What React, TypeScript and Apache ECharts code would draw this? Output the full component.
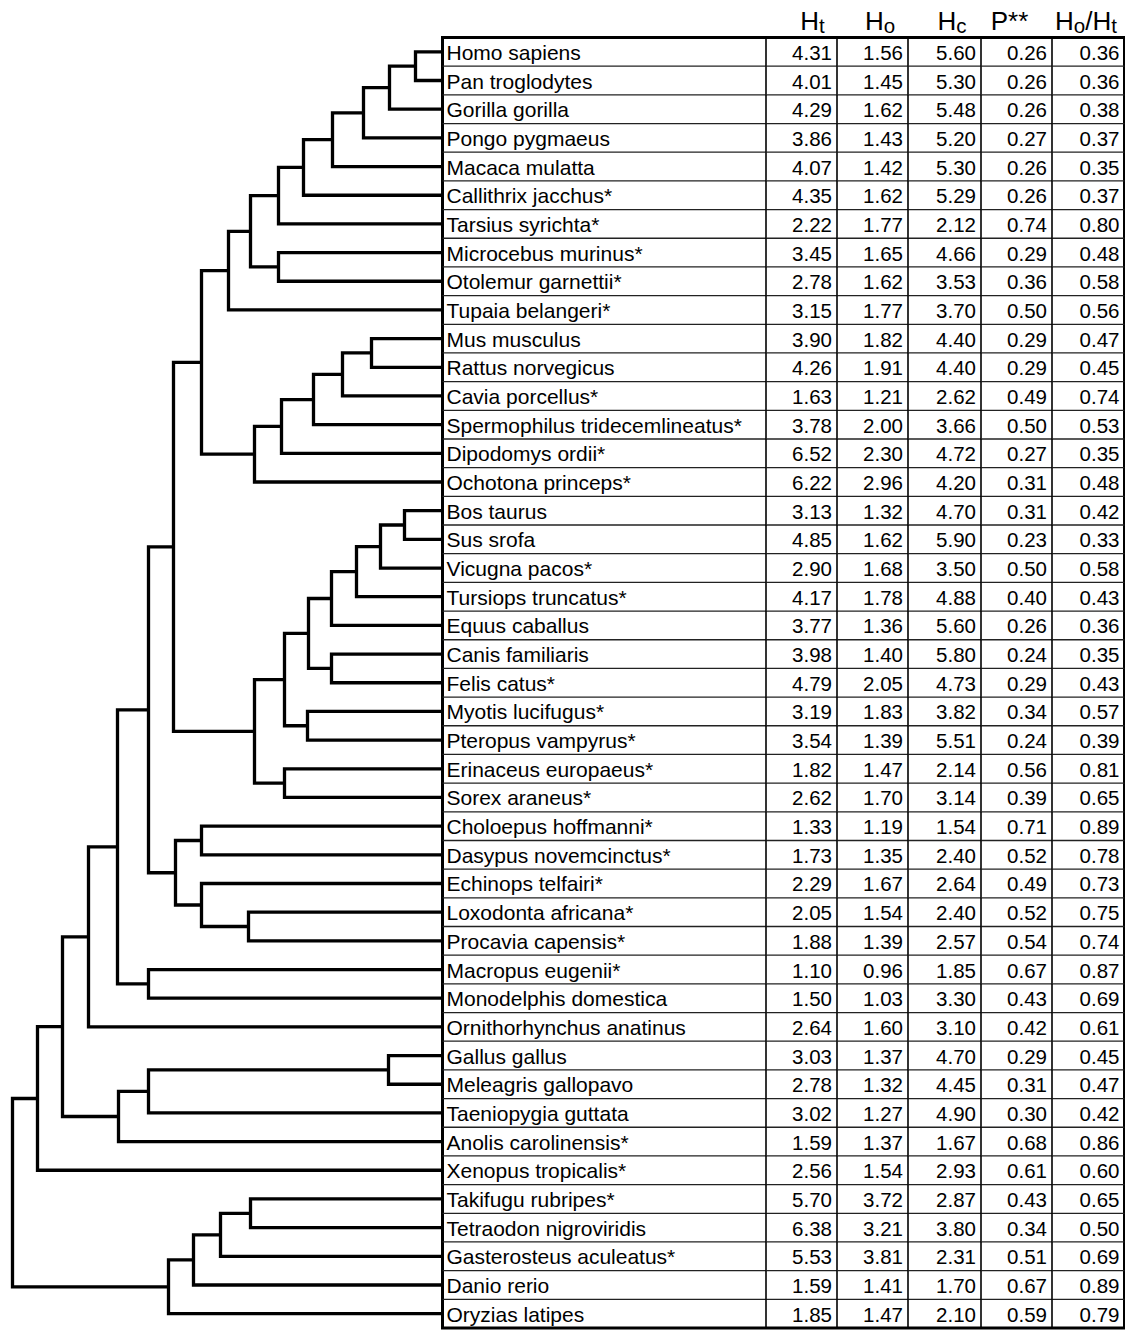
import React, { useEffect, useRef } from "react";
import * as echarts from "echarts";

// ---------------- DATA ----------------
const species = [
  "Homo sapiens", "Pan troglodytes", "Gorilla gorilla", "Pongo pygmaeus", "Macaca mulatta",
  "Callithrix jacchus*", "Tarsius syrichta*", "Microcebus murinus*", "Otolemur garnettii*", "Tupaia belangeri*",
  "Mus musculus", "Rattus norvegicus", "Cavia porcellus*", "Spermophilus tridecemlineatus*", "Dipodomys ordii*",
  "Ochotona princeps*", "Bos taurus", "Sus srofa", "Vicugna pacos*", "Tursiops truncatus*",
  "Equus caballus", "Canis familiaris", "Felis catus*", "Myotis lucifugus*", "Pteropus vampyrus*",
  "Erinaceus europaeus*", "Sorex araneus*", "Choloepus hoffmanni*", "Dasypus novemcinctus*", "Echinops telfairi*",
  "Loxodonta africana*", "Procavia capensis*", "Macropus eugenii*", "Monodelphis domestica", "Ornithorhynchus anatinus",
  "Gallus gallus", "Meleagris gallopavo", "Taeniopygia guttata", "Anolis carolinensis*", "Xenopus tropicalis*",
  "Takifugu rubripes*", "Tetraodon nigroviridis", "Gasterosteus aculeatus*", "Danio rerio", "Oryzias latipes",
];

const Ht = [4.31, 4.01, 4.29, 3.86, 4.07, 4.35, 2.22, 3.45, 2.78, 3.15, 3.90, 4.26, 1.63, 3.78, 6.52, 6.22, 3.13, 4.85, 2.90, 4.17, 3.77, 3.98, 4.79, 3.19, 3.54, 1.82, 2.62, 1.33, 1.73, 2.29, 2.05, 1.88, 1.10, 1.50, 2.64, 3.03, 2.78, 3.02, 1.59, 2.56, 5.70, 6.38, 5.53, 1.59, 1.85];
const Ho = [1.56, 1.45, 1.62, 1.43, 1.42, 1.62, 1.77, 1.65, 1.62, 1.77, 1.82, 1.91, 1.21, 2.00, 2.30, 2.96, 1.32, 1.62, 1.68, 1.78, 1.36, 1.40, 2.05, 1.83, 1.39, 1.47, 1.70, 1.19, 1.35, 1.67, 1.54, 1.39, 0.96, 1.03, 1.60, 1.37, 1.32, 1.27, 1.37, 1.54, 3.72, 3.21, 3.81, 1.41, 1.47];
const Hc = [5.60, 5.30, 5.48, 5.20, 5.30, 5.29, 2.12, 4.66, 3.53, 3.70, 4.40, 4.40, 2.62, 3.66, 4.72, 4.20, 4.70, 5.90, 3.50, 4.88, 5.60, 5.80, 4.73, 3.82, 5.51, 2.14, 3.14, 1.54, 2.40, 2.64, 2.40, 2.57, 1.85, 3.30, 3.10, 4.70, 4.45, 4.90, 1.67, 2.93, 2.87, 3.80, 2.31, 1.70, 2.10];
const Pval = [0.26, 0.26, 0.26, 0.27, 0.26, 0.26, 0.74, 0.29, 0.36, 0.50, 0.29, 0.29, 0.49, 0.50, 0.27, 0.31, 0.31, 0.23, 0.50, 0.40, 0.26, 0.24, 0.29, 0.34, 0.24, 0.56, 0.39, 0.71, 0.52, 0.49, 0.52, 0.54, 0.67, 0.43, 0.42, 0.29, 0.31, 0.30, 0.68, 0.61, 0.43, 0.34, 0.51, 0.67, 0.59];
const HoHt = [0.36, 0.36, 0.38, 0.37, 0.35, 0.37, 0.80, 0.48, 0.58, 0.56, 0.47, 0.45, 0.74, 0.53, 0.35, 0.48, 0.42, 0.33, 0.58, 0.43, 0.36, 0.35, 0.43, 0.57, 0.39, 0.81, 0.65, 0.89, 0.78, 0.73, 0.75, 0.74, 0.87, 0.69, 0.61, 0.45, 0.47, 0.42, 0.86, 0.60, 0.65, 0.50, 0.69, 0.89, 0.79];

// column headers (rich text: h = main letter, s = subscript)
const headers = ["{h|H}{s|t}", "{h|H}{s|o}", "{h|H}{s|c}", "{h|P**}", "{h|H}{s|o}{h|/H}{s|t}"];

// internal tree nodes: [id, child A, child B, node depth (0 = tips)]
const treeNodes: [string, string, string, number][] = [
  ["P1", "Homo sapiens", "Pan troglodytes", 27],
  ["P2", "P1", "Gorilla gorilla", 53],
  ["P3", "P2", "Pongo pygmaeus", 79],
  ["P4", "P3", "Macaca mulatta", 110],
  ["P5", "P4", "Callithrix jacchus*", 139],
  ["P6", "P5", "Tarsius syrichta*", 164],
  ["P7", "Microcebus murinus*", "Otolemur garnettii*", 164],
  ["P8", "P6", "P7", 192],
  ["P9", "P8", "Tupaia belangeri*", 214],
  ["G1", "Mus musculus", "Rattus norvegicus", 71],
  ["G2", "G1", "Cavia porcellus*", 100],
  ["G3", "G2", "Spermophilus tridecemlineatus*", 129],
  ["G4", "G3", "Dipodomys ordii*", 161],
  ["G5", "G4", "Ochotona princeps*", 188],
  ["E1", "P9", "G5", 241],
  ["L1", "Bos taurus", "Sus srofa", 38],
  ["L2", "L1", "Vicugna pacos*", 62],
  ["L3", "L2", "Tursiops truncatus*", 86],
  ["L4", "L3", "Equus caballus", 111],
  ["L5", "Canis familiaris", "Felis catus*", 111],
  ["L6", "L4", "L5", 134],
  ["L7", "Myotis lucifugus*", "Pteropus vampyrus*", 135],
  ["L8", "L6", "L7", 158],
  ["L9", "Erinaceus europaeus*", "Sorex araneus*", 158],
  ["L10", "L8", "L9", 188],
  ["B1", "E1", "L10", 269],
  ["X1", "Choloepus hoffmanni*", "Dasypus novemcinctus*", 241],
  ["A1", "Loxodonta africana*", "Procavia capensis*", 194],
  ["A2", "Echinops telfairi*", "A1", 241],
  ["XA", "X1", "A2", 267],
  ["EU", "B1", "XA", 294],
  ["M1", "Macropus eugenii*", "Monodelphis domestica", 294],
  ["TH", "EU", "M1", 325],
  ["MA", "TH", "Ornithorhynchus anatinus", 354],
  ["AV1", "Gallus gallus", "Meleagris gallopavo", 54],
  ["AV2", "AV1", "Taeniopygia guttata", 294],
  ["SA", "AV2", "Anolis carolinensis*", 324],
  ["AM", "MA", "SA", 380],
  ["TE", "AM", "Xenopus tropicalis*", 405],
  ["F1", "Takifugu rubripes*", "Tetraodon nigroviridis", 192],
  ["F2", "F1", "Gasterosteus aculeatus*", 222],
  ["F3", "F2", "Danio rerio", 249],
  ["F4", "F3", "Oryzias latipes", 274],
  ["ROOT", "TE", "F4", 430],
];

// ---------------- LAYOUT ----------------
const W = 1125;
const H = 1330;
const TOP = 37.5;
const TABLE_H = 1290.5;
const SPLIT = 442.5;
const TABLE_W = 682;
const colEdges = [0, 323.5, 394.5, 465.5, 538.5, 609.5, 682];
const headerCenters = [370, 437.5, 509.5, 567, 643.5];
const FONT = '"Liberation Sans", Arial, sans-serif';

export default function App() {
  const ref = useRef<HTMLDivElement>(null);

  useEffect(() => {
    if (!ref.current) return;
    const chart = echarts.init(ref.current, undefined, { renderer: "svg", width: W, height: H });

    // tree geometry in data units (x: depth, y: row index)
    const pos: Record<string, [number, number]> = {};
    species.forEach((s, i) => (pos[s] = [0, i]));
    const treeData = treeNodes.map(([id, a, b, d]) => {
      const pa = pos[a];
      const pb = pos[b];
      const y = (pa[1] + pb[1]) / 2;
      pos[id] = [d, y];
      return [d, y, pa[0], pa[1], pb[0], pb[1]];
    });

    // table cells
    const cols = [species, Ht, Ho, Hc, Pval, HoHt];
    const cells: { col: number; row: number; text: string }[] = [];
    species.forEach((_, r) => {
      cols.forEach((arr, c) => {
        const v = arr[r];
        cells.push({ col: c, row: r, text: typeof v === "number" ? v.toFixed(2) : String(v) });
      });
    });

    const hiddenAxis = {
      axisLine: { show: false },
      axisTick: { show: false },
      axisLabel: { show: false },
      splitLine: { show: false },
    };

    chart.setOption({
      animation: false,
      backgroundColor: "#fff",
      grid: [
        { left: 0, top: TOP, width: SPLIT, height: TABLE_H, show: false },
        {
          left: SPLIT,
          top: TOP,
          width: TABLE_W,
          height: TABLE_H,
          show: true,
          borderColor: "#000",
          borderWidth: 3,
          backgroundColor: "transparent",
        },
      ],
      xAxis: [
        { type: "value", gridIndex: 0, min: 0, max: SPLIT, inverse: true, ...hiddenAxis },
        { type: "value", gridIndex: 1, min: 0, max: TABLE_W, ...hiddenAxis },
      ],
      yAxis: [
        { type: "value", gridIndex: 0, min: -0.5, max: species.length - 0.5, inverse: true, ...hiddenAxis },
        { type: "value", gridIndex: 1, min: -0.5, max: species.length - 0.5, inverse: true, ...hiddenAxis },
      ],
      series: [
        {
          type: "custom",
          xAxisIndex: 0,
          yAxisIndex: 0,
          data: treeData,
          renderItem: (params: any, api: any) => {
            const d = api.value(0);
            const ha = api.value(2), ya = api.value(3), hb = api.value(4), yb = api.value(5);
            const pts = [
              api.coord([ha, ya]),
              api.coord([d, ya]),
              api.coord([d, yb]),
              api.coord([hb, yb]),
            ];
            return {
              type: "polyline",
              shape: { points: pts },
              style: { stroke: "#000", lineWidth: 3.3, fill: null, lineJoin: "miter", lineCap: "butt" },
            };
          },
        },
        {
          type: "custom",
          xAxisIndex: 1,
          yAxisIndex: 1,
          data: cells.map((c) => [c.col, c.row]),
          renderItem: (params: any, api: any) => {
            const c = cells[params.dataIndex];
            const tl = api.coord([colEdges[c.col], c.row - 0.5]);
            const br = api.coord([colEdges[c.col + 1], c.row + 0.5]);
            const children: any[] = [];
            if (c.row < species.length - 1) {
              children.push({
                type: "line",
                shape: { x1: tl[0], y1: br[1], x2: br[0], y2: br[1] },
                style: { stroke: "#222", lineWidth: 1.3 },
              });
            }
            if (c.col < colEdges.length - 2) {
              children.push({
                type: "line",
                shape: { x1: br[0], y1: tl[1], x2: br[0], y2: br[1] },
                style: { stroke: "#000", lineWidth: 1.6 },
              });
            }
            children.push({
              type: "text",
              x: c.col === 0 ? tl[0] + 4 : br[0] - 5,
              y: (tl[1] + br[1]) / 2 + 0.5,
              style: {
                text: c.text,
                align: c.col === 0 ? "left" : "right",
                verticalAlign: "middle",
                fontSize: c.col === 0 ? 21 : 20.5,
                fontFamily: FONT,
                fill: "#000",
              },
            });
            return { type: "group", children };
          },
        },
        {
          type: "custom",
          xAxisIndex: 1,
          yAxisIndex: 1,
          data: headers.map((_, i) => [headerCenters[i], -1]),
          renderItem: (params: any, api: any) => {
            const p = api.coord([api.value(0), api.value(1)]);
            return {
              type: "text",
              x: p[0],
              y: p[1] - 2,
              style: {
                text: headers[params.dataIndex],
                align: "center",
                verticalAlign: "middle",
                fill: "#000",
                rich: {
                  h: { fontSize: 26, lineHeight: 30, fontFamily: FONT, fill: "#000" },
                  s: { fontSize: 20.5, lineHeight: 19, verticalAlign: "bottom", fontFamily: FONT, fill: "#000" },
                },
              },
            };
          },
        },
      ],
    });

    return () => chart.dispose();
  }, []);

  return (
    <div
      ref={ref}
      style={{ position: "absolute", left: 0, top: 0, width: W, height: H, background: "#fff" }}
    />
  );
}
